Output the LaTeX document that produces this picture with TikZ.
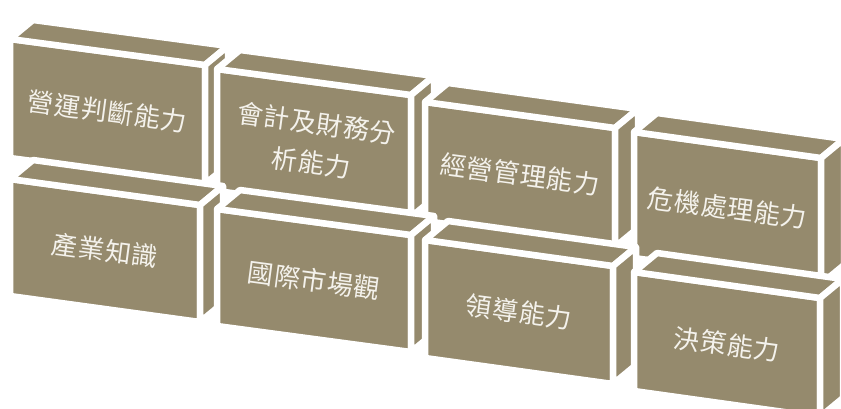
\documentclass[tikz,border=0pt]{standalone}
\usepackage{fontspec}
\setmainfont[LetterSpace=3]{Noto Sans CJK TC}
\usetikzlibrary{calc}
\definecolor{brickcol}{HTML}{958A6D}
\definecolor{txtcol}{HTML}{F4F2EC}
\tikzset{
  face/.style={fill=brickcol, draw=white, line width=6.5pt, line join=round},
  lbl/.style={text=txtcol, font=\fontsize{26}{40}\selectfont, align=center, inner sep=0pt, rotate=-7.6}
}
% #1 x, #2 y, #3 width, #4 height, #5 name, #6 text
\newcommand{\brick}[6]{%
  \path (#1,#2) coordinate (#5tl) ++(#3,26) coordinate (#5tr) ++(0,#4) coordinate (#5br) ++(-#3,-26) coordinate (#5bl);
  \filldraw[face] (#5tl) -- (#5tr) -- (#5br) -- (#5bl) -- cycle;
  \filldraw[face] (#5tl) -- (#5tr) -- ++(23,-19) -- ++(-#3,-26) -- cycle;
  \filldraw[face] (#5tr) -- (#5br) -- ++(23,-19) -- ++(0,-#4) -- cycle;
  \node[lbl] (#5) at ($(#5tl)!0.5!(#5br)$) {#6};
}
\begin{document}
\begin{tikzpicture}[x=1pt, y=-1pt]
  \useasboundingbox (0,0) rectangle (841,408);
  \clip (0,0) rectangle (841,408);
  \brick{10}{39}{195}{119}{b1}{營運判斷能力}
  \brick{217}{69}{194}{122}{b2}{會計及財務分\\析能力}
  \brick{425}{102}{190}{119}{b3}{經營管理能力}
  \brick{634}{132}{187}{126}{b4}{危機處理能力}
  \brick{10}{179}{190}{117}{b5}{產業知識}
  \brick{217}{209}{194}{117}{b6}{國際市場觀}
  \brick{425}{240}{188}{118}{b7}{領導能力}
  \brick{634}{272}{186}{119}{b8}{決策能力}
\end{tikzpicture}
\end{document}
